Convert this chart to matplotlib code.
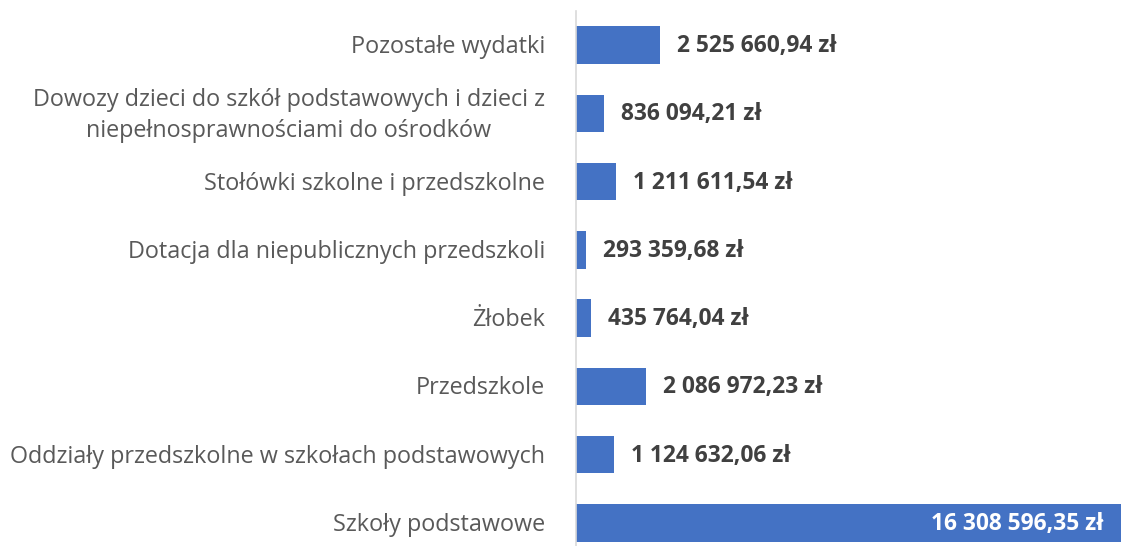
import matplotlib
matplotlib.use("Agg")
import matplotlib.pyplot as plt

categories = [
    "Szkoły podstawowe",
    "Oddziały przedszkolne w szkołach podstawowych",
    "Przedszkole",
    "Żłobek",
    "Dotacja dla niepublicznych przedszkoli",
    "Stołówki szkolne i przedszkolne",
    "Dowozy dzieci do szkół podstawowych i dzieci z\nniepełnosprawnościami do ośrodków",
    "Pozostałe wydatki",
]
values = [16308596.35, 1124632.06, 2086972.23, 435764.04, 293359.68,
          1211611.54, 836094.21, 2525660.94]
labels = ["16 308 596,35 zł", "1 124 632,06 zł", "2 086 972,23 zł", "435 764,04 zł",
          "293 359,68 zł", "1 211 611,54 zł", "836 094,21 zł", "2 525 660,94 zł"]

plt.rcParams['font.family'] = ['Open Sans', 'DejaVu Sans']

W, H = 1123, 546
fig = plt.figure(figsize=(W / 100, H / 100), dpi=100)
left = 576 / W
right = 1121 / W
top = (H - 11) / H
ax = fig.add_axes([left, 0, right - left, top])

slot = 68.3
ypos = list(range(len(categories)))
ax.barh(ypos, values, height=0.55, color="#4472C4")
ax.set_xlim(0, max(values))
ax.set_ylim(-0.5 + (557 - H) / slot, len(categories) - 0.5)

for spine in ["top", "right", "bottom"]:
    ax.spines[spine].set_visible(False)
ax.spines["left"].set_color("#d9d9d9")
ax.spines["left"].set_linewidth(1.2)
ax.set_xticks([])
ax.set_yticks([])

cat_fs = 16.8
val_fs = 16.4
for y, c in zip(ypos, categories):
    ax.annotate(c, xy=(0, y), xytext=(-31, -2), textcoords="offset pixels",
                ha="right", va="center", fontsize=cat_fs, color="#595959",
                multialignment="center", linespacing=1.35)

for y, v, lab in zip(ypos, values, labels):
    if v == max(values):
        ax.annotate(lab, xy=(v, y), xytext=(-17, -1), textcoords="offset pixels",
                    ha="right", va="center", fontsize=val_fs, fontweight="bold", color="white")
    else:
        ax.annotate(lab, xy=(v, y), xytext=(17, -1), textcoords="offset pixels",
                    ha="left", va="center", fontsize=val_fs, fontweight="bold", color="#404040")

fig.savefig("out.png", dpi=100)
